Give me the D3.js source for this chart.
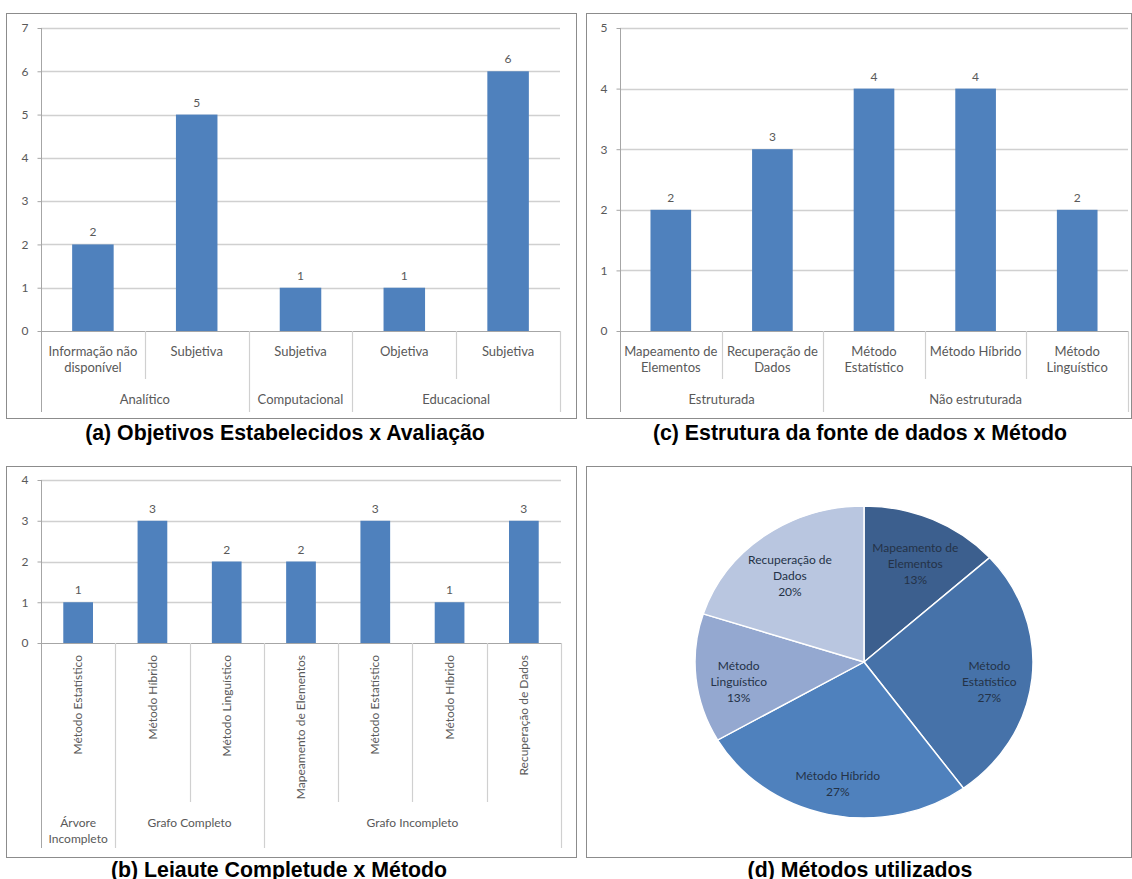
<!DOCTYPE html>
<html>
<head>
<meta charset="utf-8">
<script src="https://cdn.jsdelivr.net/npm/d3@7"></script>
<style>
  body { margin: 0; background: #fff; }
  svg text { font-family: Lato, "Open Sans", sans-serif; }
</style>
</head>
<body>
<svg id="viz"></svg>
<script>
var width = 1132;
var height = 879;

// (a) Objetivos Estabelecidos x Avaliação
var aCategories = ["Informação não\ndisponível", "Subjetiva", "Subjetiva", "Objetiva", "Subjetiva"];
var aValues = [2, 5, 1, 1, 6];
var aGroups = ["Analítico", "Computacional", "Educacional"];
var aGroupSizes = [2, 1, 2];
var aTicks = [0, 1, 2, 3, 4, 5, 6, 7];

// (c) Estrutura da fonte de dados x Método
var cCategories = ["Mapeamento de\nElementos", "Recuperação de\nDados", "Método\nEstatístico", "Método Híbrido", "Método\nLinguístico"];
var cValues = [2, 3, 4, 4, 2];
var cGroups = ["Estruturada", "Não estruturada"];
var cGroupSizes = [2, 3];
var cTicks = [0, 1, 2, 3, 4, 5];

// (b) Leiaute Completude x Método
var bCategories = ["Método Estatístico", "Método Híbrido", "Método Linguístico", "Mapeamento de Elementos", "Método Estatístico", "Método Híbrido", "Recuperação de Dados"];
var bValues = [1, 3, 2, 2, 3, 1, 3];
var bGroups = ["Árvore\nIncompleto", "Grafo Completo", "Grafo Incompleto"];
var bGroupSizes = [1, 2, 4];
var bTicks = [0, 1, 2, 3, 4];

// (d) Métodos utilizados
var dLabels = ["Mapeamento de\nElementos", "Método\nEstatístico", "Método Híbrido", "Método\nLinguístico", "Recuperação de\nDados"];
var dValues = [2, 4, 4, 2, 3];
var dColors = ["#3c5f8e", "#4672a9", "#4f81bd", "#94a8d0", "#b9c6e0"];

var barColor = "#4f81bd";
var gridColor = "#d0d0d0";
var axisColor = "#a6a6a6";
var textColor = "#595959";
var capFont = "'Liberation Sans', Arial, sans-serif";

var svg = d3.select("#viz")
    .attr("width", width)
    .attr("height", height);

function frame(x0, y0, x1, y1) {
    svg.append("rect")
        .attr("x", x0 + 0.5).attr("y", y0 + 0.5)
        .attr("width", x1 - x0).attr("height", y1 - y0)
        .attr("fill", "none")
        .attr("stroke", "#8c8c8c");
}

function multiline(sel, str, lineH) {
    var lines = str.split("\n");
    lines.forEach(function (l, i) {
        sel.append("tspan")
            .attr("x", sel.attr("x"))
            .attr("dy", i == 0 ? 0 : lineH)
            .text(l);
    });
}

function caption(txt, x, y) {
    svg.append("text")
        .attr("x", x)
        .attr("y", y)
        .attr("text-anchor", "middle")
        .style("font-family", capFont)
        .style("font-weight", "bold")
        .style("font-size", "21.3px")
        .attr("fill", "#000")
        .text(txt);
}

function barChart(cfg) {
    var g = svg.append("g");
    var fs = cfg.fontSize + "px";
    var x = d3.scaleBand()
        .domain(d3.range(cfg.values.length))
        .range([cfg.x0, cfg.x1])
        .paddingInner(0.6)
        .paddingOuter(0.3);
    var band = (cfg.x1 - cfg.x0) / cfg.values.length;
    var y = d3.scaleLinear()
        .domain([0, d3.max(cfg.ticks)])
        .range([cfg.y0, cfg.y1]);

    // gridlines
    g.selectAll(".grid")
        .data(cfg.ticks.slice(1))
        .enter().append("line")
        .attr("x1", cfg.x0).attr("x2", cfg.x1)
        .attr("y1", function (d) { return Math.round(y(d)) + 0.5; })
        .attr("y2", function (d) { return Math.round(y(d)) + 0.5; })
        .attr("stroke", gridColor)
        .attr("stroke-width", 1.5);

    // y axis
    var yAxis = g.append("g")
        .attr("transform", "translate(" + (cfg.x0 + 0.5) + ",0)")
        .call(d3.axisLeft(y).tickValues(cfg.ticks).tickSize(4).tickPadding(9).tickFormat(d3.format("d")));
    yAxis.select(".domain").remove();
    yAxis.selectAll(".tick line").attr("stroke", axisColor);
    yAxis.selectAll("text").attr("fill", textColor).style("font-size", "12px").style("font-family", "Lato, sans-serif");
    g.append("line")
        .attr("x1", cfg.x0 + 0.5).attr("x2", cfg.x0 + 0.5)
        .attr("y1", y(d3.max(cfg.ticks))).attr("y2", cfg.groupSepBottom)
        .attr("stroke", axisColor);

    // bars
    g.selectAll(".bar")
        .data(cfg.values)
        .enter().append("rect")
        .attr("x", function (d, i) { return x(i); })
        .attr("y", function (d) { return y(d); })
        .attr("width", x.bandwidth())
        .attr("height", function (d) { return y(0) - y(d); })
        .attr("fill", barColor);

    // value labels
    g.selectAll(".val")
        .data(cfg.values)
        .enter().append("text")
        .attr("x", function (d, i) { return x(i) + x.bandwidth() / 2; })
        .attr("y", function (d) { return y(d) - 8; })
        .attr("text-anchor", "middle")
        .attr("fill", textColor)
        .style("font-size", "12px")
        .text(function (d) { return d; });

    // base line
    g.append("line")
        .attr("x1", cfg.x0).attr("x2", cfg.x1)
        .attr("y1", Math.round(y(0)) + 0.5).attr("y2", Math.round(y(0)) + 0.5)
        .attr("stroke", axisColor);

    // separators
    var groupEnds = [];
    var acc = 0;
    cfg.groupSizes.forEach(function (n) { acc += n; groupEnds.push(acc); });
    d3.range(1, cfg.values.length + 1).forEach(function (i) {
        var xx = Math.round(cfg.x0 + i * band) + 0.5;
        var isGroup = groupEnds.indexOf(i) >= 0;
        g.append("line")
            .attr("x1", xx).attr("x2", xx)
            .attr("y1", y(0))
            .attr("y2", isGroup ? cfg.groupSepBottom : cfg.innerSepBottom)
            .attr("stroke", gridColor)
            .attr("stroke-width", 1.2);
    });

    // category labels
    cfg.categories.forEach(function (c, i) {
        var cx = x(i) + x.bandwidth() / 2;
        if (cfg.rotate) {
            g.append("text")
                .attr("transform", "translate(" + cx + "," + cfg.catLabelY + ") rotate(-90)")
                .attr("dy", "0.35em")
                .attr("text-anchor", "end")
                .attr("fill", textColor)
                .style("font-size", fs)
                .text(c);
        } else {
            var t = g.append("text")
                .attr("x", cx)
                .attr("y", cfg.catLabelY)
                .attr("text-anchor", "middle")
                .attr("fill", textColor)
                .style("font-size", fs);
            multiline(t, c, 16);
        }
    });

    // group labels
    var start = 0;
    cfg.groups.forEach(function (gname, i) {
        var n = cfg.groupSizes[i];
        var cx = cfg.x0 + (start + n / 2) * band;
        var t = g.append("text")
            .attr("x", cx)
            .attr("y", cfg.groupLabelY)
            .attr("text-anchor", "middle")
            .attr("fill", textColor)
            .style("font-size", fs);
        multiline(t, gname, 16);
        start += n;
    });

    caption(cfg.caption, cfg.capX, cfg.capY);
}

// panel (a)
frame(6, 13, 576, 418);
barChart({
    categories: aCategories, values: aValues, groups: aGroups, groupSizes: aGroupSizes, ticks: aTicks,
    x0: 41, x1: 560, y0: 331, y1: 28, fontSize: 13,
    catLabelY: 356, groupLabelY: 404, innerSepBottom: 379, groupSepBottom: 412,
    caption: "(a) Objetivos Estabelecidos x Avaliação", capX: 285, capY: 440
});

// panel (c)
frame(586, 13, 1131, 418);
barChart({
    categories: cCategories, values: cValues, groups: cGroups, groupSizes: cGroupSizes, ticks: cTicks,
    x0: 620, x1: 1128, y0: 331, y1: 28, fontSize: 13,
    catLabelY: 356, groupLabelY: 404, innerSepBottom: 379, groupSepBottom: 412,
    caption: "(c) Estrutura da fonte de dados x Método", capX: 860, capY: 440
});

// panel (b)
frame(6, 466, 576, 857);
barChart({
    categories: bCategories, values: bValues, groups: bGroups, groupSizes: bGroupSizes, ticks: bTicks,
    x0: 41, x1: 561, y0: 643, y1: 480, rotate: true, fontSize: 12,
    catLabelY: 655, groupLabelY: 827, innerSepBottom: 802, groupSepBottom: 848,
    caption: "(b) Leiaute Completude x Método", capX: 279, capY: 877
});

// panel (d) pie
frame(586, 466, 1131, 857);
var pieCx = 864, pieCy = 662, rx = 169, ry = 156;
var pie = d3.pie().sort(null)(dValues);
var arc = d3.arc().innerRadius(0).outerRadius(rx);
var total = d3.sum(dValues);

var pieG = svg.append("g")
    .attr("transform", "translate(" + pieCx + "," + pieCy + ") scale(1," + (ry / rx) + ")");
pieG.selectAll("path")
    .data(pie)
    .enter().append("path")
    .attr("d", arc)
    .attr("fill", function (d, i) { return dColors[i]; })
    .attr("stroke", "#ffffff")
    .attr("stroke-width", 1.5);

var labelArc = d3.arc().innerRadius(116).outerRadius(136);
pie.forEach(function (d, i) {
    var c = labelArc.centroid(d);
    var lines = dLabels[i].split("\n").concat([Math.round(d.value / total * 100) + "%"]);
    var t = svg.append("text")
        .attr("x", pieCx + c[0])
        .attr("y", pieCy + c[1] * ry / rx - (lines.length - 1) * 8 + 12)
        .attr("text-anchor", "middle")
        .attr("fill", "#243247")
        .style("font-size", "12px");
    multiline(t, lines.join("\n"), 16);
});

caption("(d) Métodos utilizados", 860, 877);
</script>
</body>
</html>
